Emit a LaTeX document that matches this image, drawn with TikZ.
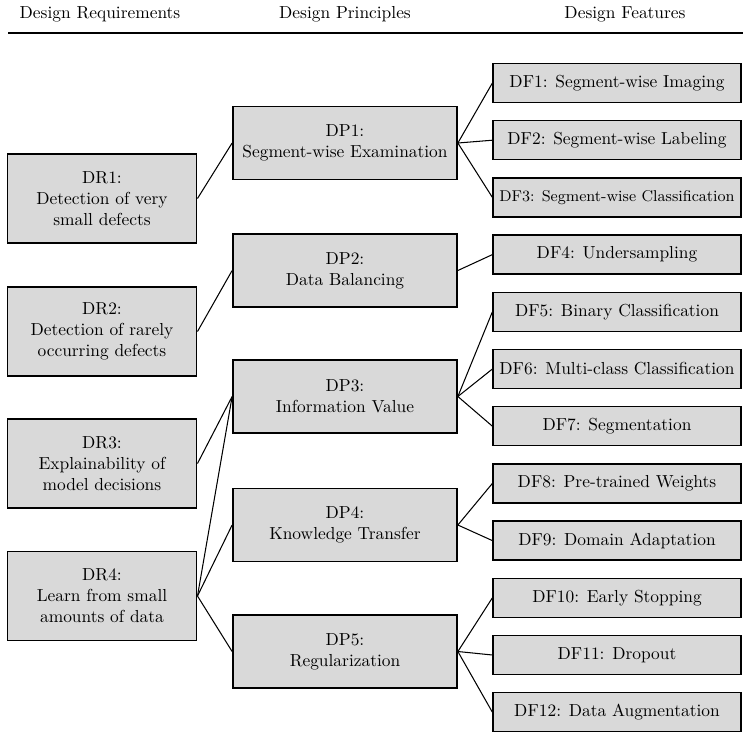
\documentclass[tikz,border=0pt]{standalone}
\usepackage{tikz}
\usetikzlibrary{positioning}

\begin{document}
\begin{tikzpicture}[
    x=0.575pt, y=-0.575pt,
    box/.style={draw, thick, fill=gray!30, align=center, inner sep=2pt},
    drbox/.style={box, minimum width=109pt, minimum height=51.2pt},
    dpbox/.style={box, minimum width=129pt, minimum height=42pt},
    dfbox/.style={box, minimum width=142.5pt, minimum height=22.4pt},
    link/.style={semithick}
]
\useasboundingbox (0,0) rectangle (743,732);

% Column headers
\node (hdrDR) at (100,14) {Design Requirements};
\node (hdrDP) at (345,14) {Design Principles};
\node (hdrDF) at (625,14) {Design Features};
\coordinate (ruleL) at (8,33);
\coordinate (ruleR) at (743,33);
\draw[very thick] (ruleL) -- (ruleR);

% Design requirements
\node[drbox] (dr1) at (102,198.5) {DR1:\\Detection of very\\small defects};
\node[drbox] (dr2) at (102,331.5) {DR2:\\Detection of rarely\\occurring defects};
\node[drbox] (dr3) at (102,463.5) {DR3:\\Explainability of\\model decisions};
\node[drbox] (dr4) at (102,596) {DR4:\\Learn from small\\amounts of data};

% Design principles
\node[dpbox] (dp1) at (345,143) {DP1:\\Segment-wise Examination};
\node[dpbox] (dp2) at (345,270.5) {DP2:\\Data Balancing};
\node[dpbox] (dp3) at (345,396.5) {DP3:\\Information Value};
\node[dpbox] (dp4) at (345,525) {DP4:\\Knowledge Transfer};
\node[dpbox] (dp5) at (345,651.5) {DP5:\\Regularization};

% Design features
\node[dfbox] (df1) at (617,83) {DF1: Segment-wise Imaging};
\node[dfbox] (df2) at (617,140.2) {DF2: Segment-wise Labeling};
\node[dfbox] (df3) at (617,197.4) {\small DF3: Segment-wise Classification};
\node[dfbox] (df4) at (617,254.6) {DF4: Undersampling};
\node[dfbox] (df5) at (617,311.8) {DF5: Binary Classification};
\node[dfbox] (df6) at (617,369) {DF6: Multi-class Classification};
\node[dfbox] (df7) at (617,426.2) {DF7: Segmentation};
\node[dfbox] (df8) at (617,483.4) {DF8: Pre-trained Weights};
\node[dfbox] (df9) at (617,540.6) {DF9: Domain Adaptation};
\node[dfbox] (df10) at (617,597.8) {DF10: Early Stopping};
\node[dfbox] (df11) at (617,655) {DF11: Dropout};
\node[dfbox] (df12) at (617,712.2) {DF12: Data Augmentation};

% Requirements to principles
\draw[link] (dr1.east) -- (dp1.west);
\draw[link] (dr2.east) -- (dp2.west);
\draw[link] (dr3.east) -- (dp3.west);
\draw[link] (dr4.east) -- (dp3.west);
\draw[link] (dr4.east) -- (dp4.west);
\draw[link] (dr4.east) -- (dp5.west);

% Principles to features
\draw[link] (dp1.east) -- (df1.west);
\draw[link] (dp1.east) -- (df2.west);
\draw[link] (dp1.east) -- (df3.west);
\draw[link] (dp2.east) -- (df4.west);
\draw[link] (dp3.east) -- (df5.west);
\draw[link] (dp3.east) -- (df6.west);
\draw[link] (dp3.east) -- (df7.west);
\draw[link] (dp4.east) -- (df8.west);
\draw[link] (dp4.east) -- (df9.west);
\draw[link] (dp5.east) -- (df10.west);
\draw[link] (dp5.east) -- (df11.west);
\draw[link] (dp5.east) -- (df12.west);

\end{tikzpicture}
\end{document}
